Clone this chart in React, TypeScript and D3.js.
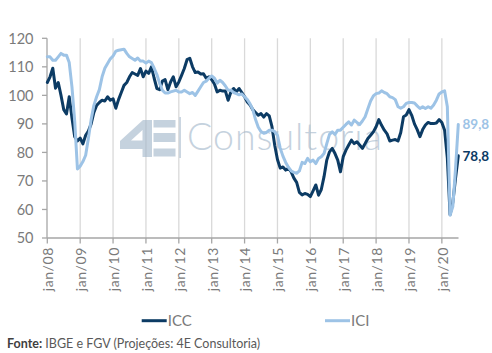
import React from 'react';
import * as d3 from 'd3';

const W = 492;
const H = 353;

const TICK_LABELS = ['jan/08', 'jan/09', 'jan/10', 'jan/11', 'jan/12', 'jan/13', 'jan/14', 'jan/15', 'jan/16', 'jan/17', 'jan/18', 'jan/19', 'jan/20'];
const Y_TICKS = [50, 60, 70, 80, 90, 100, 110, 120];
const SERIES_NAMES = ['ICC', 'ICI'];
const END_LABELS = ['78,8', '89,8'];

// monthly values jan/08 .. jul/20
const ICC = [
  104.5, 106.5, 109.5, 102.5, 104.5, 100, 95, 93.5, 99.5, 92, 85.5, 84,
  85, 83, 86, 87.5, 90, 94, 96.5, 97.5, 98.3, 98, 99.5, 98.3,
  98.8, 95.5, 98.5, 101, 103.5, 104.5, 106.5, 108, 107.5, 107, 109.4, 106.5,
  108.5, 107.7, 110, 106, 102.4, 102, 105, 105.5, 102, 104.7, 106.5, 103,
  104.7, 107, 109.4, 112.5, 113, 110, 108, 108.2, 107.5, 107.6, 106, 106.5,
  105.5, 104, 101.2, 101.8, 101.5, 101.5, 98.3, 101.2, 102.4, 101.2, 102.4, 101,
  99.5, 97.7, 96.6, 95, 94, 93, 93.6, 92.4, 93.6, 92.8, 89, 82.5,
  77.5, 74.5, 74.9, 73.8, 74.5, 73.2, 71, 69.5, 66, 65.1, 65.6, 65.3,
  64.5, 66.5, 68.6, 65, 67, 71.5, 77.3, 80.2, 81.4, 79.6, 77.3, 73.2,
  78.5, 80.8, 82.6, 84.3, 83.1, 83.7, 82.6, 81.4, 83.1, 84.9, 86, 87.2,
  89, 91.5, 89.5, 87.8, 86.5, 84, 84.3, 84.5, 84, 87, 92.5, 93.1,
  95, 93, 90, 88, 85.5, 88, 89.6, 90.5, 90.1, 90.1, 90.3, 91.5,
  90.5, 87.8, 78, 58.2, 62.5, 71, 78.8,
];

const ICI = [
  113.5, 113.5, 112.3, 112.3, 113.5, 114.7, 114.1, 114.1, 111.5, 103, 91, 74.2,
  75.2, 76.8, 79, 85, 91.5, 96.5, 99.5, 102, 106.5, 109.5, 111.2, 112.8,
  113.8, 115.5, 115.8, 116, 116.2, 114.7, 113.5, 112.9, 112.3, 113.1, 112, 112,
  111.3, 112, 111.5, 109.5, 107.3, 104.2, 101.8, 100.8, 100.8, 101.2, 101.5, 101.8,
  101.2, 101.2, 101.8, 101.2, 100.6, 101, 100, 101.5, 103, 104.5, 105, 106,
  106.8, 106, 104.3, 105.3, 104.5, 103.3, 101.8, 101.8, 101, 100.6, 100.2, 100.5,
  99.5, 98.5, 97, 95, 91.5, 88.8, 87.3, 86.7, 87, 87.8, 87.8, 87.3,
  86, 81.5, 78.7, 76.5, 74.8, 73.5, 73, 72.7, 73.5, 76.5, 76.1, 77.9,
  76.7, 77.3, 76.1, 77.9, 78.5, 79.6, 83.1, 86.3, 87.2, 86.3, 87.8, 87.8,
  88.8, 89.8, 90.7, 89.6, 91.3, 90.5, 89.8, 91, 92.5, 95.3, 98, 99.8,
  100.6, 100.8, 101.6, 101, 100.6, 99.5, 99.2, 98.5, 96, 95.5, 96, 97.2,
  97.5, 97.5, 97.3, 96.3, 95.4, 96, 95.4, 96, 95.5, 96.6, 98.3, 100.5,
  101.2, 101.6, 96, 58, 61, 74.5, 89.8,
];

const COLORS = ['#0c3b64', '#9dc3e6'];
const FONT = "'Century Gothic', Lato, 'Open Sans', sans-serif";

export default function App() {
  const x = d3.scaleLinear().domain([0, ICC.length - 1]).range([47.3, 458.3]);
  const y = d3.scaleLinear().domain([50, 120]).range([238, 38.3]);
  const line = d3
    .line<number>()
    .x((_, i) => x(i))
    .y((d) => y(d));
  const series = [ICC, ICI];
  const tickIdx = TICK_LABELS.map((_, k) => k * 12);
  const x0 = 47;
  const xEnd = 458.5;
  const axisColor = '#a6a6a6';
  const gridColor = '#d9d9d9';
  const textColor = '#7a7a7a';

  return (
    <svg
      width={W}
      height={H}
      viewBox={`0 0 ${W} ${H}`}
      style={{ position: 'absolute', left: 0, top: 0, background: '#fff' }}
      fontFamily={FONT}
    >
      <rect x={0} y={0} width={W} height={H} fill="#fff" />
      {/* vertical gridlines */}
      {tickIdx.slice(1).map((i) => (
        <line key={'g' + i} x1={x(i)} x2={x(i)} y1={y(120)} y2={y(50)} stroke={gridColor} strokeWidth={1.3} />
      ))}

      {/* watermark */}
      <g opacity={0.62} fill="#a3b7cb">
        <path
          fillRule="evenodd"
          d="M120,149 L120,141 L143,120 L152,120 L152,157 L142.5,157 L142.5,149 Z M131,140.5 L142.5,140.5 L142.5,130 Z"
        />
        <rect x={153.5} y={120} width={22} height={7.5} />
        <rect x={153.5} y={133} width={22} height={9} />
        <rect x={153.5} y={148.5} width={22} height={8} />
        <rect x={179.3} y={117} width={1.6} height={41} />
        <text x={187} y={150} fontSize={37.5} fontWeight={300} letterSpacing={1} fontFamily="Lato, sans-serif">
          Consultoria
        </text>
      </g>

      {/* y axis */}
      <line x1={x0} x2={x0} y1={y(120)} y2={y(50)} stroke={axisColor} strokeWidth={1.3} />
      {Y_TICKS.map((t) => (
        <g key={'y' + t}>
          <line x1={x0 - 5} x2={x0} y1={y(t)} y2={y(t)} stroke={axisColor} strokeWidth={1.3} />
          <text x={33.5} y={y(t)} dy="0.36em" textAnchor="end" fontSize={14.5} fill={textColor}>
            {t}
          </text>
        </g>
      ))}

      {/* x axis */}
      <line x1={x0} x2={xEnd} y1={y(50)} y2={y(50)} stroke={axisColor} strokeWidth={1.3} />
      {tickIdx.map((i, k) => (
        <g key={'x' + i}>
          <line x1={x(i)} x2={x(i)} y1={y(50)} y2={y(50) + 5.5} stroke={axisColor} strokeWidth={1.3} />
          <text
            transform={`translate(${x(i) + 1},247) rotate(-90)`}
            dy="0.35em"
            textAnchor="end"
            fontSize={14}
            letterSpacing={0.6}
            fill={textColor}
          >
            {TICK_LABELS[k]}
          </text>
        </g>
      ))}

      {/* series lines */}
      {series.map((s, k) => (
        <path
          key={'s' + k}
          d={line(s) || ''}
          fill="none"
          stroke={COLORS[k]}
          strokeWidth={3}
          strokeLinejoin="round"
          strokeLinecap="round"
        />
      ))}

      {/* end labels */}
      {series.map((s, k) => (
        <text
          key={'e' + k}
          x={462.5}
          y={y(s[s.length - 1])}
          dy="0.35em"
          fontSize={13.5}
          fontWeight={700}
          fill={COLORS[k]}
        >
          {END_LABELS[k]}
        </text>
      ))}

      {/* legend */}
      {SERIES_NAMES.map((n, k) => {
        const lx = k === 0 ? 141.7 : 325;
        return (
          <g key={'l' + n}>
            <line x1={lx} x2={lx + 25} y1={320.7} y2={320.7} stroke={COLORS[k]} strokeWidth={3} />
            <text x={lx + 26} y={320.7} dy="0.36em" fontSize={15} fill={textColor}>
              {n}
            </text>
          </g>
        );
      })}

      {/* source */}
      <text x={7} y={344} dy="0.35em" fontSize={12.5} fill="#595959">
        <tspan fontWeight={700} fill="#404040">Fonte:</tspan> IBGE e FGV (Projeções: 4E Consultoria)
      </text>
    </svg>
  );
}
